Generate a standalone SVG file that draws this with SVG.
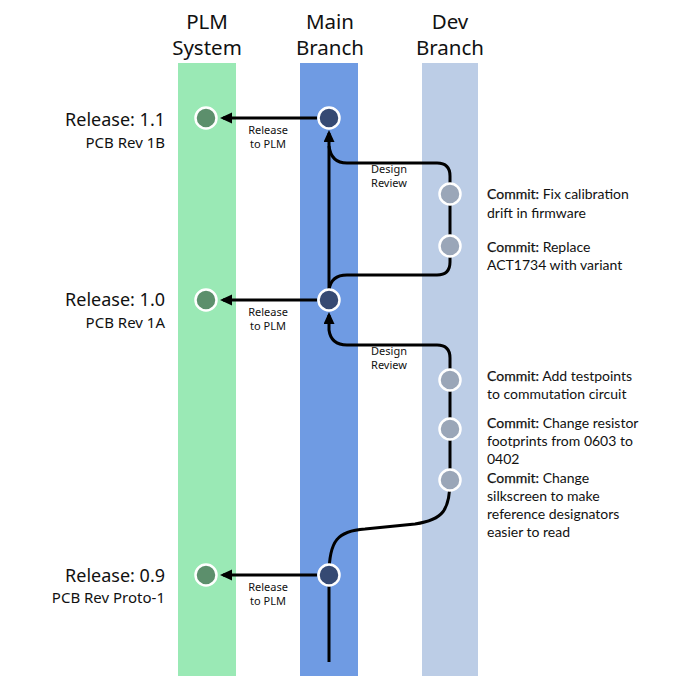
<svg xmlns="http://www.w3.org/2000/svg" width="676" height="689" viewBox="0 0 676 689">
<style>
.hdr{font-family:"Noto Sans",Lato,sans-serif;font-size:20.5px;fill:#111;text-anchor:middle}
.rel{font-family:"Noto Sans",Lato,sans-serif;font-size:18px;fill:#111;text-anchor:end}
.pcb{font-family:"Noto Sans",Lato,sans-serif;font-size:15px;fill:#111;text-anchor:end}
.sm{font-family:"Noto Sans",Lato,sans-serif;font-size:11px;fill:#111;text-anchor:middle}
.cm{font-family:Lato,"Noto Sans",sans-serif;font-size:14px;fill:#111}
.cm tspan.b{stroke:#111;stroke-width:0.25}
.ln{fill:none;stroke:#000;stroke-width:3}
.arr{fill:none;stroke:#000;stroke-width:3;marker-end:url(#ah)}
.gn{fill:#5C8F6C;stroke:#fff;stroke-width:2.5}
.mn{fill:#364A73;stroke:#fff;stroke-width:2.5}
.dn{fill:#9AA6B8;stroke:#fff;stroke-width:2.5}
</style>
<defs>
<marker id="ah" markerUnits="userSpaceOnUse" markerWidth="12" markerHeight="12" refX="9" refY="5.5" orient="auto">
<path d="M0,0 L12,5.5 L0,11 z" fill="#000"/>
</marker>
</defs>
<rect width="676" height="689" fill="#fff"/>
<g id="lanes">
<rect x="178" y="63" width="58" height="613" fill="#9AE9B5"/>
<rect x="300" y="63" width="58" height="613" fill="#6F9BE3"/>
<rect x="422" y="63" width="56" height="613" fill="#BCCDE6"/>
</g>
<g id="headers">
<text class="hdr" x="207" y="29">PLM</text>
<text class="hdr" x="207" y="55">System</text>
<text class="hdr" x="330" y="29">Main</text>
<text class="hdr" x="330" y="55">Branch</text>
<text class="hdr" x="450" y="29">Dev</text>
<text class="hdr" x="450" y="55">Branch</text>
</g>
<g id="connectors">
<path class="arr" d="M329,300 V133"/>
<path class="ln" d="M450,194 V176 Q450,163 437,163 H347 Q331,163 329,146"/>
<path class="ln" d="M450,246 V262 Q450,275 437,275 H347 Q331,275 329,290"/>
<path class="ln" d="M450,194 V246"/>
<path class="arr" d="M450,380 V358 Q450,345 437,345 H347 Q331,345 329,330 V315"/>
<path class="ln" d="M450,380 V480"/>
<path class="ln" d="M329,575 C329,540 338,531 365,529 L415,524 C443,520 450,510 450,480"/>
<path class="ln" d="M329,575 V662"/>
<path class="arr" d="M317,118 H223"/>
<path class="arr" d="M317,300 H223"/>
<path class="arr" d="M317,575 H223"/>
<text class="sm" x="268" y="134">Release</text>
<text class="sm" x="268" y="148">to PLM</text>
<text class="sm" x="268" y="316">Release</text>
<text class="sm" x="268" y="330">to PLM</text>
<text class="sm" x="268" y="591">Release</text>
<text class="sm" x="268" y="605">to PLM</text>
<text class="sm" x="389" y="173">Design</text>
<text class="sm" x="389" y="187">Review</text>
<text class="sm" x="389" y="355">Design</text>
<text class="sm" x="389" y="369">Review</text>
</g>
<g id="rel11">
<circle class="gn" cx="206" cy="118" r="10.5"/>
<text class="rel" x="165" y="126">Release: 1.1</text>
<text class="pcb" x="165" y="148">PCB Rev 1B</text>
</g>
<g id="rel10">
<circle class="gn" cx="206" cy="300" r="10.5"/>
<text class="rel" x="165" y="306">Release: 1.0</text>
<text class="pcb" x="165" y="328">PCB Rev 1A</text>
</g>
<g id="rel09">
<circle class="gn" cx="206" cy="575" r="10.5"/>
<text class="rel" x="165" y="582">Release: 0.9</text>
<text class="pcb" x="165" y="603">PCB Rev Proto-1</text>
</g>
<g id="main11"><circle class="mn" cx="329" cy="118" r="10.5"/></g>
<g id="main10"><circle class="mn" cx="329" cy="300" r="10.5"/></g>
<g id="main09"><circle class="mn" cx="329" cy="575" r="10.5"/></g>
<g id="c1">
<circle class="dn" cx="450" cy="194" r="10.5"/>
<text class="cm" x="487" y="199"><tspan class="b">Commit:</tspan> Fix calibration</text>
<text class="cm" x="487" y="218">drift in firmware</text>
</g>
<g id="c2">
<circle class="dn" cx="450" cy="246" r="10.5"/>
<text class="cm" x="487" y="252"><tspan class="b">Commit:</tspan> Replace</text>
<text class="cm" x="487" y="270">ACT1734 with variant</text>
</g>
<g id="c3">
<circle class="dn" cx="450" cy="380" r="10.5"/>
<text class="cm" x="487" y="381"><tspan class="b">Commit:</tspan> Add testpoints</text>
<text class="cm" x="487" y="399">to commutation circuit</text>
</g>
<g id="c4">
<circle class="dn" cx="450" cy="429" r="10.5"/>
<text class="cm" x="487" y="428"><tspan class="b">Commit:</tspan> Change resistor</text>
<text class="cm" x="487" y="446">footprints from 0603 to</text>
<text class="cm" x="487" y="464">0402</text>
</g>
<g id="c5">
<circle class="dn" cx="450" cy="480" r="10.5"/>
<text class="cm" x="487" y="483"><tspan class="b">Commit:</tspan> Change</text>
<text class="cm" x="487" y="501">silkscreen to make</text>
<text class="cm" x="487" y="519">reference designators</text>
<text class="cm" x="487" y="537">easier to read</text>
</g>
</svg>
